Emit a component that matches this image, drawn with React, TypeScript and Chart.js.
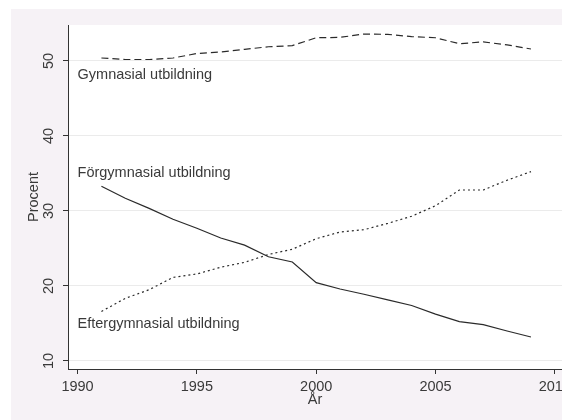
import React, { useEffect, useRef } from "react";
import { Chart, registerables } from "chart.js";

Chart.register(...registerables);

const years = [1991, 1992, 1993, 1994, 1995, 1996, 1997, 1998, 1999, 2000, 2001, 2002, 2003, 2004, 2005, 2006, 2007, 2008, 2009];
const gymnasial = [50.4, 50.2, 50.2, 50.4, 51.0, 51.2, 51.55, 51.9, 52.05, 53.1, 53.15, 53.6, 53.55, 53.25, 53.1, 52.3, 52.55, 52.15, 51.6];
const forgymnasial = [33.3, 31.7, 30.35, 28.9, 27.7, 26.4, 25.45, 23.9, 23.2, 20.45, 19.6, 18.9, 18.15, 17.4, 16.25, 15.25, 14.85, 14.0, 13.2];
const eftergymnasial = [16.6, 18.35, 19.5, 21.15, 21.6, 22.5, 23.15, 24.2, 24.9, 26.3, 27.2, 27.5, 28.35, 29.3, 30.7, 32.8, 32.8, 34.1, 35.25];

const seriesLabels = ["Gymnasial utbildning", "Förgymnasial utbildning", "Eftergymnasial utbildning"];
const labelX = [1990.0, 1990.0, 1990.0];
const labelY = [48.1, 35.05, 14.95];

const xTickLabels = ["1990", "1995", "2000", "2005", "2010"];
const yTickLabels = ["10", "20", "30", "40", "50"];
const xTitle = "År";
const yTitle = "Procent";

const FONT = '"Liberation Sans", Arial, sans-serif';
const TEXT = "#3a3a3a";

export default function App() {
  const ref = useRef<HTMLCanvasElement | null>(null);
  useEffect(() => {
    if (!ref.current) return;
    const bgPlugin = {
      id: "bg",
      beforeDraw(chart: any) {
        const c = chart.ctx;
        const a = chart.chartArea;
        c.save();
        c.fillStyle = "#f6f2f6";
        c.fillRect(11, 9, chart.width - 11, chart.height - 9);
        c.fillStyle = "#ffffff";
        c.fillRect(a.left, a.top, a.right - a.left, a.bottom - a.top);
        c.restore();
      },
    };
    const textPlugin = {
      id: "texts",
      afterDraw(chart: any) {
        const c = chart.ctx;
        const xs = chart.scales.x;
        const ys = chart.scales.y;
        const a = chart.chartArea;
        c.save();
        c.fillStyle = TEXT;
        c.font = `14.5px ${FONT}`;
        // x tick labels
        c.textAlign = "center";
        c.textBaseline = "middle";
        xs.ticks.forEach((t: any, i: number) => {
          const lbl = xTickLabels[i] ?? String(t.value);
          c.fillText(lbl, xs.getPixelForValue(t.value), a.bottom + 18);
        });
        // y tick labels rotated
        ys.ticks.forEach((t: any, i: number) => {
          const lbl = yTickLabels[i] ?? String(t.value);
          c.save();
          c.translate(a.left - 19, ys.getPixelForValue(t.value));
          c.rotate(-Math.PI / 2);
          c.fillText(lbl, 0, 0);
          c.restore();
        });
        // axis titles
        c.fillText(xTitle, (a.left + a.right) / 2, a.bottom + 31);
        c.save();
        c.translate(a.left - 34, (a.top + a.bottom) / 2);
        c.rotate(-Math.PI / 2);
        c.fillText(yTitle, 0, 0);
        c.restore();
        // series labels
        c.textAlign = "left";
        seriesLabels.forEach((s, i) => {
          c.fillText(s, xs.getPixelForValue(labelX[i]), ys.getPixelForValue(labelY[i]));
        });
        c.restore();
      },
    };
    const mk = (d: number[]) => years.map((y, i) => ({ x: y, y: d[i] }));
    const chart = new Chart(ref.current, {
      type: "line",
      data: {
        datasets: [
          { label: seriesLabels[0], data: mk(gymnasial), borderColor: "#2a2a2a", borderWidth: 1.2, borderDash: [7, 4], pointRadius: 0, fill: false, tension: 0 },
          { label: seriesLabels[1], data: mk(forgymnasial), borderColor: "#2a2a2a", borderWidth: 1.2, pointRadius: 0, fill: false, tension: 0 },
          { label: seriesLabels[2], data: mk(eftergymnasial), borderColor: "#2a2a2a", borderWidth: 1.2, borderDash: [2, 3], pointRadius: 0, fill: false, tension: 0 },
        ],
      },
      options: {
        animation: false,
        responsive: false,
        maintainAspectRatio: false,
        layout: { padding: { top: 25, left: 0, right: 0, bottom: 0 } },
        plugins: { legend: { display: false }, tooltip: { enabled: false } },
        scales: {
          x: {
            type: "linear",
            min: 1989.6,
            max: 2010.3,
            ticks: { stepSize: 5, includeBounds: false, display: false },
            grid: { drawOnChartArea: false, drawTicks: true, tickLength: 5, tickColor: "#333", color: "#333" },
            border: { display: true, color: "#333", width: 1 },
            afterFit: (s: any) => { s.height = 51; },
          },
          y: {
            type: "linear",
            min: 8.93,
            max: 54.8,
            ticks: { stepSize: 10, includeBounds: false, display: false },
            grid: { color: "#ebebeb", drawTicks: true, tickLength: 5, tickColor: "#333" },
            border: { display: true, color: "#333", width: 1 },
            afterFit: (s: any) => { s.width = 68; },
          },
        },
      },
      plugins: [bgPlugin, textPlugin],
    } as any);
    return () => chart.destroy();
  }, []);
  return (
    <div style={{ position: "absolute", left: 0, top: 0, width: 562, height: 420 }}>
      <canvas ref={ref} width={562} height={420} style={{ width: 562, height: 420, display: "block" }} />
    </div>
  );
}
